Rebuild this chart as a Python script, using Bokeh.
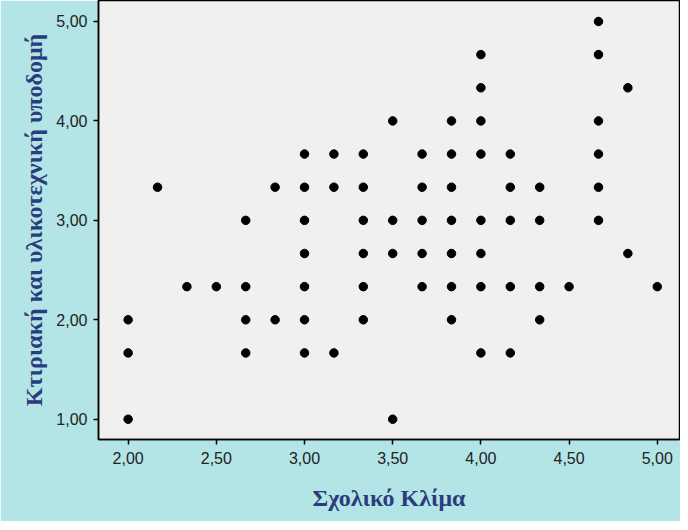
from bokeh.plotting import figure
from bokeh.models import FixedTicker, Range1d
from bokeh.embed import file_html
from bokeh.resources import INLINE

# Data: (x = Σχολικό Κλίμα, y = Κτιριακή και υλικοτεχνική υποδομή)
x_vals = [
    2.0, 2.0, 2.0,
    2.1667,
    2.3333,
    2.5,
    2.6667, 2.6667, 2.6667, 2.6667,
    2.8333, 2.8333,
    3.0, 3.0, 3.0, 3.0, 3.0, 3.0, 3.0,
    3.1667, 3.1667, 3.1667,
    3.3333, 3.3333, 3.3333, 3.3333, 3.3333, 3.3333,
    3.5, 3.5, 3.5, 3.5,
    3.6667, 3.6667, 3.6667, 3.6667, 3.6667,
    3.8333, 3.8333, 3.8333, 3.8333, 3.8333, 3.8333, 3.8333,
    4.0, 4.0, 4.0, 4.0, 4.0, 4.0, 4.0, 4.0,
    4.1667, 4.1667, 4.1667, 4.1667, 4.1667,
    4.3333, 4.3333, 4.3333, 4.3333,
    4.5,
    4.6667, 4.6667, 4.6667, 4.6667, 4.6667, 4.6667,
    4.8333, 4.8333,
    5.0,
]
y_vals = [
    2.0, 1.6667, 1.0,
    3.3333,
    2.3333,
    2.3333,
    3.0, 2.3333, 2.0, 1.6667,
    3.3333, 2.0,
    3.6667, 3.3333, 3.0, 2.6667, 2.3333, 2.0, 1.6667,
    3.6667, 3.3333, 1.6667,
    3.6667, 3.3333, 3.0, 2.6667, 2.3333, 2.0,
    4.0, 3.0, 2.6667, 1.0,
    3.6667, 3.3333, 3.0, 2.6667, 2.3333,
    4.0, 3.6667, 3.3333, 3.0, 2.6667, 2.3333, 2.0,
    4.6667, 4.3333, 4.0, 3.6667, 3.0, 2.6667, 2.3333, 1.6667,
    3.6667, 3.3333, 3.0, 2.3333, 1.6667,
    3.3333, 3.0, 2.3333, 2.0,
    2.3333,
    5.0, 4.6667, 4.0, 3.6667, 3.3333, 3.0,
    4.3333, 2.6667,
    2.3333,
]

x_ticks = [2.0, 2.5, 3.0, 3.5, 4.0, 4.5, 5.0]
x_tick_labels = ["2,00", "2,50", "3,00", "3,50", "4,00", "4,50", "5,00"]
y_ticks = [1.0, 2.0, 3.0, 4.0, 5.0]
y_tick_labels = ["1,00", "2,00", "3,00", "4,00", "5,00"]

x_title = "Σχολικό Κλίμα"
y_title = "Κτιριακή και υλικοτεχνική υποδομή"

TEAL = "#b3e4e6"
LABEL_COLOR = "#2b3c7c"

p = figure(
    width=680, height=521,
    x_range=Range1d(1.832, 5.126),
    y_range=Range1d(0.796, 5.211),
    output_backend="svg", toolbar_location=None,
    min_border_left=98, min_border_right=1,
    min_border_top=0, min_border_bottom=82,
)
p.border_fill_color = TEAL
p.background_fill_color = "#f0f0f0"
p.outline_line_color = "black"
p.outline_line_width = 1.5
p.xgrid.visible = False
p.ygrid.visible = False

p.scatter(x_vals, y_vals, size=8.5, color="black", marker="circle")

for ax, ticks, labels in ((p.xaxis[0], x_ticks, x_tick_labels), (p.yaxis[0], y_ticks, y_tick_labels)):
    ax.ticker = FixedTicker(ticks=ticks)
    ax.major_label_overrides = {t: l for t, l in zip(ticks, labels)}
    ax.major_tick_in = 0
    ax.major_tick_out = 5
    ax.major_tick_line_color = "black"
    ax.major_tick_line_width = 1.5
    ax.minor_tick_line_color = None
    ax.axis_line_color = "black"
    ax.axis_line_width = 1.5
    ax.major_label_text_font = "Liberation Sans"
    ax.major_label_text_font_size = "16px"
    ax.major_label_text_color = "#222222"
    ax.axis_label_text_font = "Liberation Serif"
    ax.axis_label_text_font_style = "bold"
    ax.axis_label_text_font_size = "24px"
    ax.axis_label_text_color = LABEL_COLOR

p.xaxis.axis_label = x_title
p.yaxis.axis_label = y_title
p.xaxis.major_label_standoff = 7
p.yaxis.major_label_standoff = 6
p.xaxis.axis_label_standoff = 18
p.yaxis.axis_label_standoff = 6

open("out.html", "w").write(file_html(p, INLINE))
